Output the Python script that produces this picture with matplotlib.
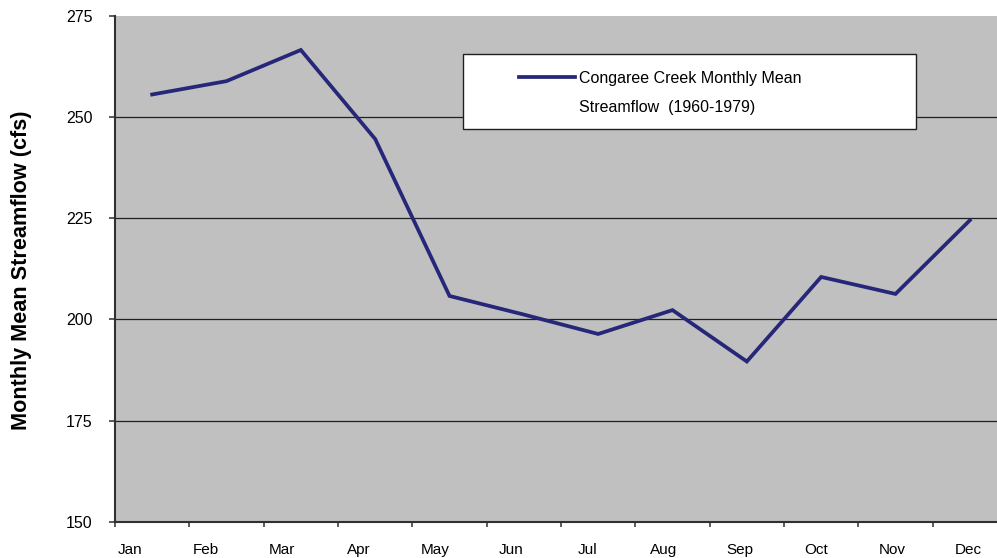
import matplotlib
matplotlib.use("Agg")
import matplotlib.pyplot as plt
from matplotlib.patches import Rectangle
from matplotlib.lines import Line2D

months = ["Jan", "Feb", "Mar", "Apr", "May", "Jun", "Jul", "Aug", "Sep", "Oct", "Nov", "Dec"]
streamflow = [255.6, 258.9, 266.6, 244.6, 205.8, 201.2, 196.4, 202.3, 189.6, 210.5, 206.3, 224.5]
y_ticks = [150, 175, 200, 225, 250, 275]
series_label = "Congaree Creek Monthly Mean"
series_label2 = "Streamflow  (1960-1979)"
y_label = "Monthly Mean Streamflow (cfs)"

plt.rcParams['font.family'] = ['Liberation Sans', 'DejaVu Sans']

fig = plt.figure(figsize=(9.97, 5.58), dpi=100)
ax = fig.add_axes([115/997, 36.3/558, 892/997, 505.7/558])
ax.set_facecolor('#C0C0C0')

line_color = '#27277A'
x = list(range(len(months)))
ax.plot(x, streamflow, color=line_color, lw=2.7, solid_joinstyle='miter', zorder=3)

ax.set_xlim(-0.5, len(months) - 0.5)
ax.set_ylim(150, 275)
ax.set_yticks(y_ticks)
ax.set_yticklabels([str(v) for v in y_ticks], fontsize=11.5)
for v in y_ticks[1:-1]:
    ax.axhline(v, color='#202020', lw=0.9, zorder=1)

# category labels are laid out slightly wider than the category slots (as in the source)
label_start, label_step = -0.298, 1.0252
ax.set_xticks([label_start + label_step * i for i in x])
ax.set_xticklabels(months, fontsize=11)
ax.set_xticks([i - 0.5 for i in range(len(months) + 1)], minor=True)
ax.tick_params(axis='x', which='major', length=0, pad=15.5)
ax.tick_params(axis='x', which='minor', length=3.6, width=1.2, color='#404040')
ax.tick_params(axis='y', length=4.3, width=1.2, color='#404040', pad=12)

for s in ['top', 'right']:
    ax.spines[s].set_visible(False)
for s in ['left', 'bottom']:
    ax.spines[s].set_color('#303030')
    ax.spines[s].set_linewidth(1.5)

# legend box
ax.add_patch(Rectangle((0.3898, 0.776), 0.8977 - 0.3898, 0.9243 - 0.776, transform=ax.transAxes,
                       facecolor='white', edgecolor='#202020', lw=1.0, zorder=5))
ax.add_line(Line2D([0.4529, 0.5157], [0.880, 0.880], transform=ax.transAxes,
                   color=line_color, lw=2.7, zorder=6))
ax.text(0.520, 0.876, series_label, transform=ax.transAxes, fontsize=11.5,
        va='center', ha='left', zorder=6)
ax.text(0.520, 0.820, series_label2, transform=ax.transAxes, fontsize=11.5,
        va='center', ha='left', zorder=6)

fig.text(0.022, 0.516, y_label, rotation=90, fontsize=15.6, fontweight='bold',
         va='center', ha='center')

fig.savefig("out.png", dpi=100)
